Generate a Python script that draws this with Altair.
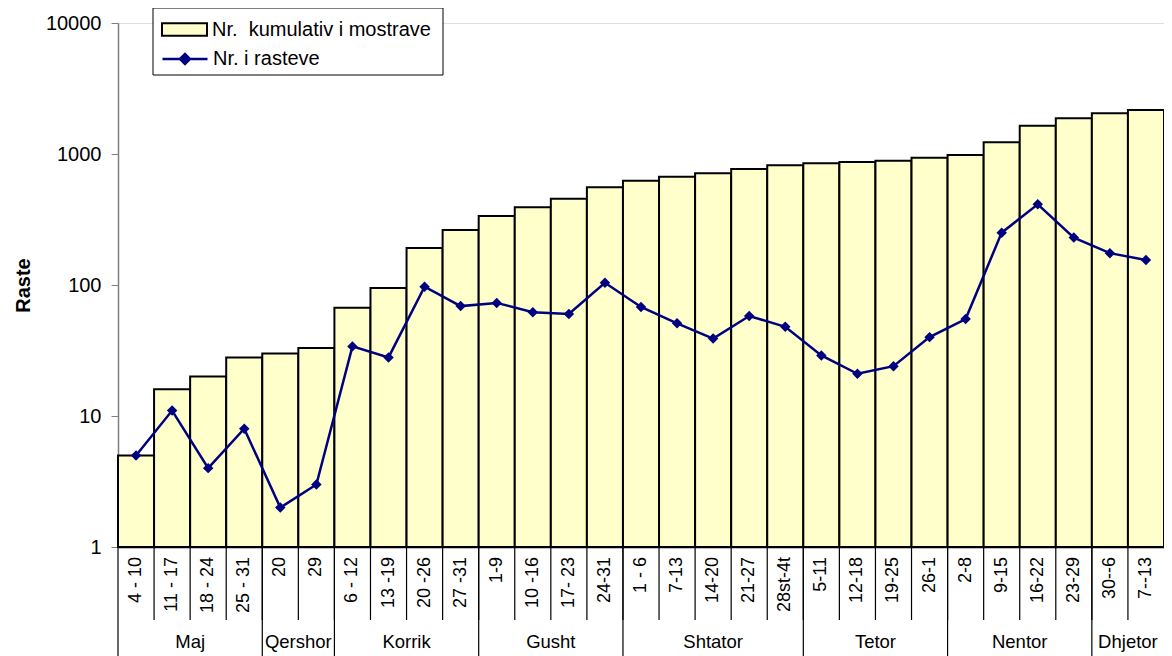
import altair as alt
import pandas as pd

FONT = "Liberation Sans"

categories = ["4 - 10", "11 - 17", "18 - 24", "25 - 31", "20", "29", "6 - 12", "13 -19",
              "20 -26", "27 -31", "1-9", "10 -16", "17- 23", "24-31", "1 - 6", "7-13",
              "14-20", "21-27", "28st-4t", "5-11", "12-18", "19-25", "26-1", "2-8",
              "9-15", "16-22", "23-29", "30--6", "7--13"]
cumulative = [5, 16, 20, 28, 30, 33, 67, 95, 192, 263, 336, 392, 456, 557, 625, 671,
              712, 768, 819, 849, 869, 889, 937, 983, 1228, 1644, 1871, 2046, 2168]
cases = [5, 11, 4, 8, 2, 3, 34, 28, 97, 69, 73, 62, 60, 104, 68, 51, 39, 58, 48, 29,
         21, 24, 40, 55, 251, 413, 230, 175, 155]
months = ["Maj", "Qershor", "Korrik", "Gusht", "Shtator", "Tetor", "Nentor", "Dhjetor"]
weeks_per_month = [4, 2, 4, 4, 5, 4, 4, 2]
y_ticks = [1, 10, 100, 1000, 10000]

label_bar = "Nr.\u00a0 kumulativ i mostrave"
label_line = "Nr. i rasteve"

n = len(categories)
df = pd.DataFrame({"cat": categories, "cum": cumulative, "cases": cases})
df["start"] = list(range(n))
df["end"] = df["start"] + 1
df["mid"] = df["start"] + 0.5
df["s1"] = label_bar
df["s2"] = label_line

starts = []
acc = 0
for w in weeks_per_month:
    starts.append(acc)
    acc += w
mdf = pd.DataFrame({"month": months, "mstart": starts,
                    "mend": [s + w for s, w in zip(starts, weeks_per_month)]})
mdf["mmid"] = (mdf["mstart"] + mdf["mend"]) / 2

sep_df = pd.DataFrame({"pos": list(range(1, n))})
msep_df = pd.DataFrame({"pos": starts})

W, H = 1046, 524
xscale = alt.Scale(domain=[0, n], nice=False, zero=False)
yscale = alt.Scale(type="log", domain=[1, 10000], nice=False)

xaxis = alt.Axis(labels=False, ticks=False, grid=False, domainColor="black",
                 domainWidth=1.5, title=None)
yaxis = alt.Axis(values=y_ticks, format="d", title="Raste", titleFontSize=20,
                 titleFontWeight="bold", titleFont=FONT, titleColor="black",
                 labelFont=FONT, labelFontSize=20, labelColor="black",
                 tickSize=7, labelPadding=10, tickColor="#808080",
                 domainColor="#808080", domainWidth=1.5, grid=False, titlePadding=12)

bars = alt.Chart(df).mark_bar(stroke="black", strokeWidth=2).encode(
    x=alt.X("start:Q", scale=xscale, axis=xaxis),
    x2="end:Q",
    y=alt.Y("cum:Q", scale=yscale, axis=yaxis),
    y2=alt.datum(1),
    fill=alt.Fill("s1:N", scale=alt.Scale(domain=[label_bar], range=["#FFFFCC"]),
                  legend=alt.Legend(title=None, orient="none", legendX=43, legendY=-17,
                                    symbolType="M-1,-0.28H1V0.28H-1Z", symbolSize=2025,
                                    symbolStrokeColor="black", symbolStrokeWidth=2,
                                    labelFont=FONT, labelFontSize=20, labelColor="black",
                                    labelOffset=4, labelLimit=0, padding=0)),
)

line = alt.Chart(df).mark_line(strokeWidth=2.5).encode(
    x=alt.X("mid:Q", scale=xscale),
    y=alt.Y("cases:Q", scale=yscale),
    stroke=alt.Stroke("s2:N", scale=alt.Scale(domain=[label_line], range=["#000080"]),
                      legend=alt.Legend(title=None, orient="none", legendX=43, legendY=12,
                                        symbolType="M-1,0H1M-0.22,0L0,-0.22L0.22,0L0,0.22Z",
                                        symbolSize=2025, symbolStrokeWidth=2.5,
                                        symbolFillColor="#000080",
                                        labelFont=FONT, labelFontSize=20, labelColor="black",
                                        labelOffset=4, labelLimit=0, padding=0)),
)

points = alt.Chart(df).mark_point(shape="diamond", filled=True, size=110,
                                  color="#000080", opacity=1).encode(
    x=alt.X("mid:Q", scale=xscale),
    y=alt.Y("cases:Q", scale=yscale),
)

cat_labels = alt.Chart(df).mark_text(angle=270, align="right", baseline="middle",
                                     fontSize=18, font=FONT, color="black").encode(
    x=alt.X("mid:Q", scale=xscale),
    y=alt.value(H + 10),
    text="cat:N",
)

seps = alt.Chart(sep_df).mark_rule(color="black", strokeWidth=1.2).encode(
    x=alt.X("pos:Q", scale=xscale),
    y=alt.value(H),
    y2=alt.value(H + 73),
)

msep = alt.Chart(msep_df).mark_rule(color="black", strokeWidth=1.2).encode(
    x=alt.X("pos:Q", scale=xscale),
    y=alt.value(H),
    y2=alt.value(H + 109),
)

month_labels = alt.Chart(mdf).mark_text(align="center", baseline="middle",
                                        fontSize=18.5, font=FONT, color="black").encode(
    x=alt.X("mmid:Q", scale=xscale),
    y=alt.value(H + 95),
    text="month:N",
)

frame = alt.Chart(pd.DataFrame({"k": [0]})).mark_rect(
    fill="white", stroke="black", strokeWidth=1).encode(
    x=alt.value(35), x2=alt.value(325), y=alt.value(-15), y2=alt.value(52))

chart = alt.layer(frame, bars, line, points, seps, msep, cat_labels, month_labels).properties(
    width=W, height=H,
    autosize=alt.AutoSizeParams(type="none"),
    padding={"left": 110, "top": 15, "right": 0, "bottom": 109},
).configure_view(stroke=None).configure(background="white")

chart.save("out.html", embed_options={"renderer": "svg", "actions": False})
